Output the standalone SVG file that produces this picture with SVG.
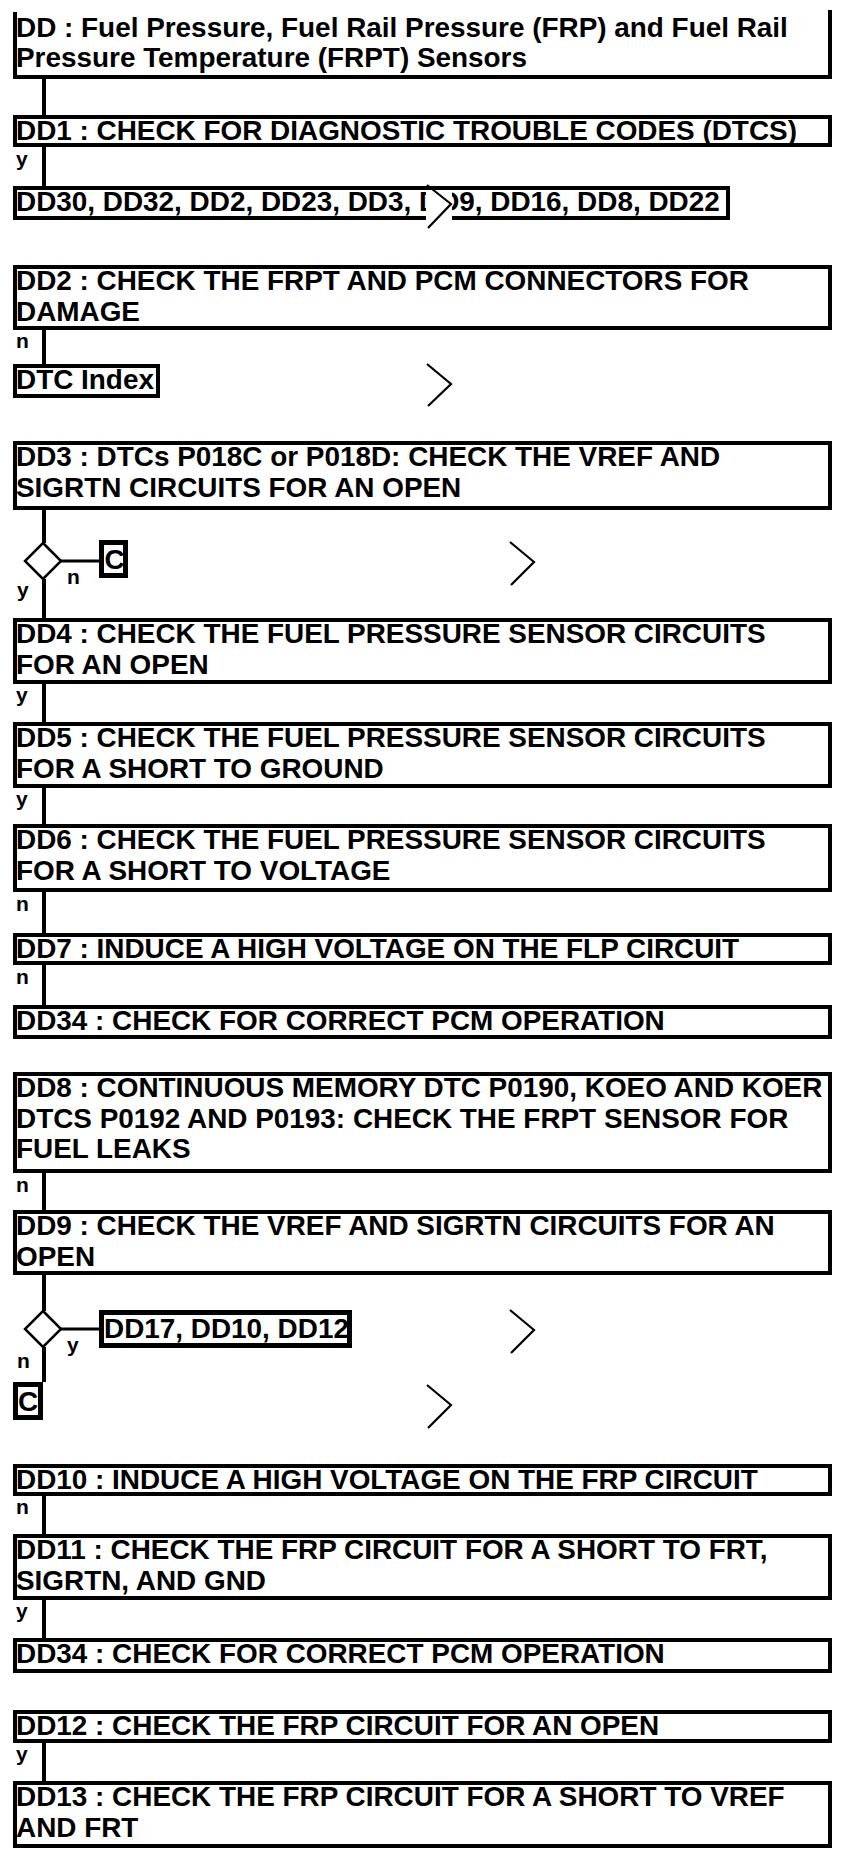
<svg xmlns="http://www.w3.org/2000/svg" width="864" height="1872" viewBox="0 0 864 1872">
<style>
.box{fill:#fff;stroke:#000;stroke-width:4}
.thick{fill:#fff;stroke:#000;stroke-width:5}
.t{font-family:"Liberation Sans",Arial,sans-serif;font-weight:bold;font-size:27.9px;fill:#000}
.lbl{font-family:"Liberation Sans",Arial,sans-serif;font-weight:bold;font-size:21px;fill:#000}
.conn line{stroke:#000;stroke-width:4}
.dia{fill:#fff;stroke:#000;stroke-width:2.5}
.chev{fill:none;stroke:#000;stroke-width:2.2}
</style>
<rect width="864" height="1872" fill="#fff"/>
<g id="connectors" class="conn">
<line x1="44" y1="79" x2="44" y2="115"/>
<line x1="44" y1="147" x2="44" y2="186"/>
<line x1="44" y1="330" x2="44" y2="364"/>
<line x1="44" y1="510" x2="44" y2="543"/>
<line x1="61" y1="561" x2="100" y2="561" style="stroke-width:3"/>
<line x1="44" y1="579" x2="44" y2="618"/>
<line x1="44" y1="684" x2="44" y2="722"/>
<line x1="44" y1="788" x2="44" y2="824"/>
<line x1="44" y1="892" x2="44" y2="933"/>
<line x1="44" y1="965" x2="44" y2="1005"/>
<line x1="44" y1="1173" x2="44" y2="1210"/>
<line x1="44" y1="1275" x2="44" y2="1311"/>
<line x1="61" y1="1329" x2="100" y2="1329" style="stroke-width:3"/>
<line x1="44" y1="1347" x2="44" y2="1382"/>
<line x1="44" y1="1496" x2="44" y2="1534"/>
<line x1="44" y1="1600" x2="44" y2="1638"/>
<line x1="44" y1="1743" x2="44" y2="1781"/>
</g>
<g id="DD">
<path d="M15,12 V77 H830 V10" fill="none" stroke="#000" stroke-width="4"/>
<text class="t" x="16" y="37">DD : Fuel Pressure, Fuel Rail Pressure (FRP) and Fuel Rail</text>
<text class="t" x="16" y="67">Pressure Temperature (FRPT) Sensors</text>
</g>
<g id="DD1">
<rect class="box" x="15" y="117" width="815" height="28"/>
<text class="t" x="16" y="140">DD1 : CHECK FOR DIAGNOSTIC TROUBLE CODES (DTCS)</text>
</g>
<text class="lbl" x="16" y="166">y</text>
<g id="DD1-list">
<rect class="box" x="15" y="188" width="713" height="30"/>
<text class="t" x="16" y="211">DD30, DD32, DD2, DD23, DD3, DD9, DD16, DD8, DD22</text>
<rect x="426" y="190" width="26" height="36" fill="#fff"/>
<polyline class="chev" points="427,185 451,204 428,228"/>
</g>
<g id="DD2">
<rect class="box" x="15" y="267" width="815" height="61"/>
<text class="t" x="16" y="290">DD2 : CHECK THE FRPT AND PCM CONNECTORS FOR</text>
<text class="t" x="16" y="320.5">DAMAGE</text>
</g>
<text class="lbl" x="16" y="348">n</text>
<g id="DTCIndex">
<rect class="box" x="15" y="366" width="143" height="30"/>
<text class="t" x="16" y="389">DTC Index</text>
</g>
<polyline class="chev" points="427,364 451,384 428,406"/>
<g id="DD3">
<rect class="box" x="15" y="443" width="815" height="65"/>
<text class="t" x="16" y="466">DD3 : DTCs P018C or P018D: CHECK THE VREF AND</text>
<text class="t" x="16" y="496.5">SIGRTN CIRCUITS FOR AN OPEN</text>
</g>
<g id="D1">
<polygon class="dia" points="43,543 61,561 43,579 25,561"/>
</g>
<text class="lbl" x="67" y="584">n</text>
<text class="lbl" x="17" y="597">y</text>
<g id="C1">
<rect class="thick" x="101.5" y="542.5" width="24" height="33"/>
<text class="t" x="104.5" y="569">C</text>
</g>
<polyline class="chev" points="510,542 534,562 511,585"/>
<g id="DD4">
<rect class="box" x="15" y="620" width="815" height="62"/>
<text class="t" x="16" y="643">DD4 : CHECK THE FUEL PRESSURE SENSOR CIRCUITS</text>
<text class="t" x="16" y="673.5">FOR AN OPEN</text>
</g>
<text class="lbl" x="16" y="702">y</text>
<g id="DD5">
<rect class="box" x="15" y="724" width="815" height="62"/>
<text class="t" x="16" y="747">DD5 : CHECK THE FUEL PRESSURE SENSOR CIRCUITS</text>
<text class="t" x="16" y="777.5">FOR A SHORT TO GROUND</text>
</g>
<text class="lbl" x="16" y="806">y</text>
<g id="DD6">
<rect class="box" x="15" y="826" width="815" height="64"/>
<text class="t" x="16" y="849">DD6 : CHECK THE FUEL PRESSURE SENSOR CIRCUITS</text>
<text class="t" x="16" y="879.5">FOR A SHORT TO VOLTAGE</text>
</g>
<text class="lbl" x="16" y="911">n</text>
<g id="DD7">
<rect class="box" x="15" y="935" width="815" height="28"/>
<text class="t" x="16" y="958">DD7 : INDUCE A HIGH VOLTAGE ON THE FLP CIRCUIT</text>
</g>
<text class="lbl" x="16" y="984">n</text>
<g id="DD34a">
<rect class="box" x="15" y="1007" width="815" height="30"/>
<text class="t" x="16" y="1030">DD34 : CHECK FOR CORRECT PCM OPERATION</text>
</g>
<g id="DD8">
<rect class="box" x="15" y="1074" width="815" height="97"/>
<text class="t" x="16" y="1097">DD8 : CONTINUOUS MEMORY DTC P0190, KOEO AND KOER</text>
<text class="t" x="16" y="1127.5">DTCS P0192 AND P0193: CHECK THE FRPT SENSOR FOR</text>
<text class="t" x="16" y="1158">FUEL LEAKS</text>
</g>
<text class="lbl" x="16" y="1192">n</text>
<g id="DD9">
<rect class="box" x="15" y="1212" width="815" height="61"/>
<text class="t" x="16" y="1235">DD9 : CHECK THE VREF AND SIGRTN CIRCUITS FOR AN</text>
<text class="t" x="16" y="1265.5">OPEN</text>
</g>
<g id="D2">
<polygon class="dia" points="43,1311 61,1329 43,1347 25,1329"/>
</g>
<text class="lbl" x="67" y="1352">y</text>
<text class="lbl" x="17" y="1368">n</text>
<g id="DD17list">
<rect class="thick" x="101.5" y="1312.5" width="248" height="33"/>
<text class="t" x="104" y="1338">DD17, DD10, DD12</text>
</g>
<polyline class="chev" points="510,1310 534,1330 511,1353"/>
<g id="C2">
<rect class="thick" x="15.5" y="1384.5" width="25" height="33"/>
<text class="t" x="18" y="1411">C</text>
</g>
<polyline class="chev" points="427,1385 451,1405 428,1428"/>
<g id="DD10">
<rect class="box" x="15" y="1466" width="815" height="28"/>
<text class="t" x="16" y="1489">DD10 : INDUCE A HIGH VOLTAGE ON THE FRP CIRCUIT</text>
</g>
<text class="lbl" x="16" y="1514">n</text>
<g id="DD11">
<rect class="box" x="15" y="1536" width="815" height="62"/>
<text class="t" x="16" y="1559">DD11 : CHECK THE FRP CIRCUIT FOR A SHORT TO FRT,</text>
<text class="t" x="16" y="1589.5">SIGRTN, AND GND</text>
</g>
<text class="lbl" x="16" y="1618">y</text>
<g id="DD34b">
<rect class="box" x="15" y="1640" width="815" height="31"/>
<text class="t" x="16" y="1663">DD34 : CHECK FOR CORRECT PCM OPERATION</text>
</g>
<g id="DD12">
<rect class="box" x="15" y="1712" width="815" height="29"/>
<text class="t" x="16" y="1735">DD12 : CHECK THE FRP CIRCUIT FOR AN OPEN</text>
</g>
<text class="lbl" x="16" y="1761">y</text>
<g id="DD13">
<rect class="box" x="15" y="1783" width="815" height="63"/>
<text class="t" x="16" y="1806">DD13 : CHECK THE FRP CIRCUIT FOR A SHORT TO VREF</text>
<text class="t" x="16" y="1836.5">AND FRT</text>
</g>
</svg>
